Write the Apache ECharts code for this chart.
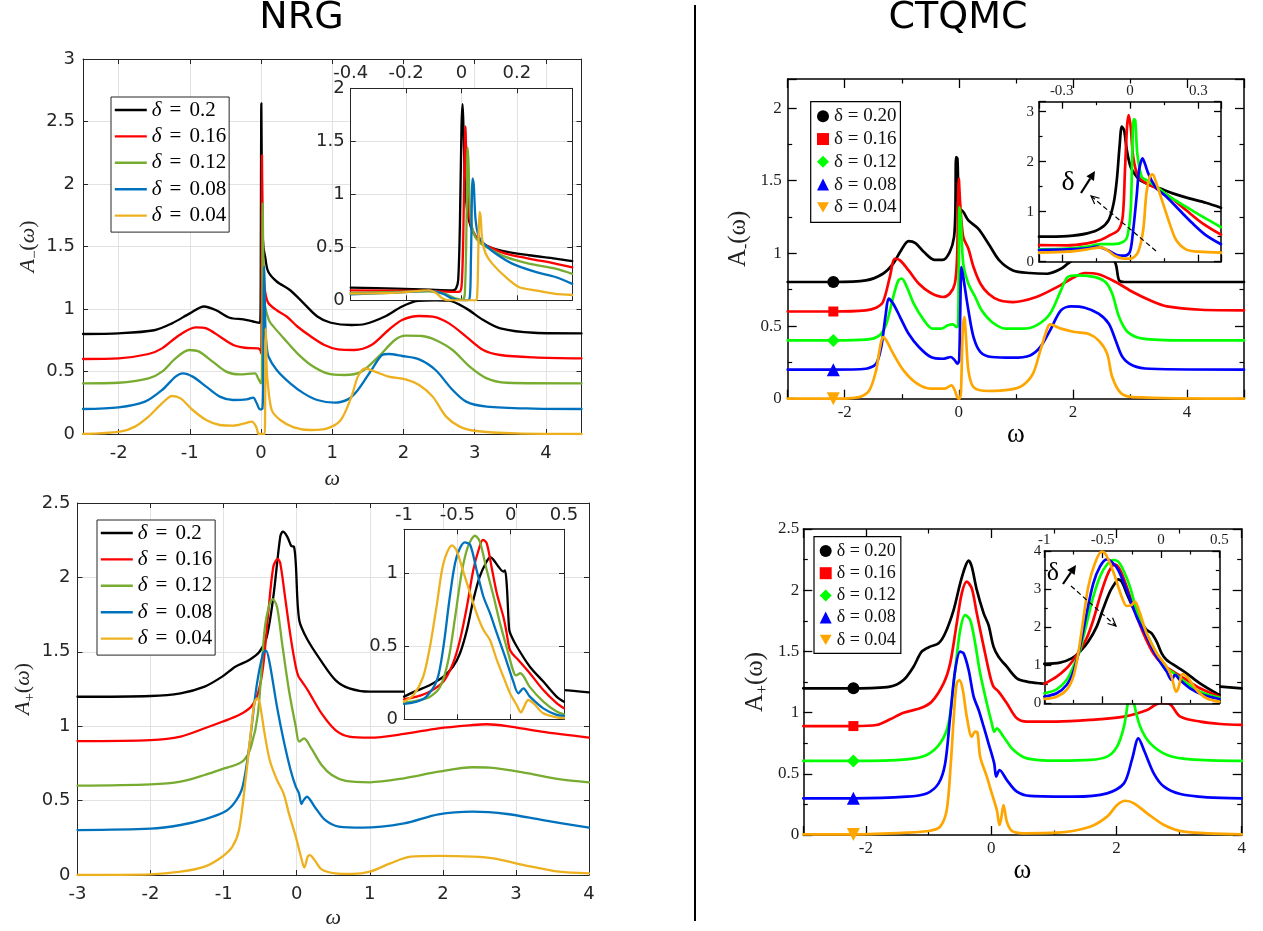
<!DOCTYPE html>
<html>
<head>
<meta charset="utf-8">
<title>Spectral functions: NRG vs CTQMC</title>
<script src="https://cdn.jsdelivr.net/npm/echarts@6/dist/echarts.min.js"></script>
<style>
  html, body { margin: 0; padding: 0; background: #ffffff; }
  #chart { width: 1263px; height: 931px; }
</style>
</head>
<body>
<div id="chart"></div>
<script>
// ---------- doping levels ----------
const deltasNRG = ['0.2', '0.16', '0.12', '0.08', '0.04'];
const deltasQMC = ['0.20', '0.16', '0.12', '0.08', '0.04'];

// ---------- axis ranges ----------
const nrgAmX = [-2.5, 4.5], nrgAmY = [0, 3];
const nrgAmZoomX = [-0.4, 0.4], nrgAmZoomY = [0, 2];
const nrgApX = [-3, 4], nrgApY = [0, 2.5];
const nrgApZoomX = [-1, 0.5], nrgApZoomY = [0, 1.3];
const qmcAmX = [-3, 5], qmcAmY = [0, 2.2];
const qmcAmZoomX = [-0.4, 0.4], qmcAmZoomY = [0, 3.2];
const qmcApX = [-3, 4], qmcApY = [0, 2.5];
const qmcApZoomX = [-1, 0.5], qmcApZoomY = [0, 4];

// ---------- NRG, A-(w), offset curves ----------
const nrgAm020 = [[-2.5,0.80],[-2.0,0.805],[-1.5,0.83],[-1.25,0.885],[-1.0,0.965],[-0.8,1.02],[-0.63,0.99],[-0.44,0.93],[-0.25,0.917],[-0.11,0.90],[-0.02,0.89],[-0.008,0.95],[-0.003,1.5],[0.004,2.645],[0.008,2.35],[0.014,1.9],[0.022,1.62],[0.035,1.49],[0.057,1.42],[0.10,1.30],[0.22,1.22],[0.41,1.15],[0.6,1.045],[0.79,0.94],[0.98,0.89],[1.27,0.872],[1.46,0.88],[1.74,0.94],[1.98,1.02],[2.2,1.065],[2.45,1.07],[2.64,1.067],[2.88,1.005],[3.12,0.912],[3.36,0.845],[3.83,0.81],[4.5,0.805]];
const nrgAm016 = [[-2.5,0.60],[-2.0,0.605],[-1.58,0.64],[-1.39,0.685],[-1.15,0.79],[-0.92,0.853],[-0.77,0.845],[-0.58,0.78],[-0.39,0.712],[-0.23,0.69],[-0.04,0.685],[-0.01,0.67],[0.002,0.645],[0.008,1.2],[0.014,2.23],[0.02,1.7],[0.03,1.35],[0.045,1.2],[0.06,1.13],[0.10,1.05],[0.22,0.99],[0.36,0.94],[0.51,0.86],[0.70,0.78],[0.89,0.712],[1.08,0.677],[1.31,0.672],[1.55,0.712],[1.79,0.832],[1.98,0.912],[2.22,0.944],[2.41,0.939],[2.64,0.885],[2.88,0.779],[3.12,0.672],[3.36,0.632],[3.83,0.613],[4.5,0.605]];
const nrgAm012 = [[-2.5,0.405],[-2.0,0.41],[-1.58,0.445],[-1.39,0.499],[-1.20,0.605],[-1.01,0.672],[-0.87,0.659],[-0.68,0.579],[-0.49,0.499],[-0.30,0.477],[-0.085,0.485],[-0.04,0.445],[0.0,0.405],[0.012,0.45],[0.018,1.1],[0.022,1.845],[0.026,1.7],[0.035,1.3],[0.05,1.05],[0.08,0.965],[0.12,0.9],[0.175,0.859],[0.32,0.765],[0.51,0.645],[0.70,0.552],[0.93,0.485],[1.17,0.472],[1.41,0.499],[1.65,0.619],[1.88,0.752],[2.03,0.787],[2.26,0.784],[2.45,0.752],[2.69,0.672],[2.93,0.539],[3.17,0.445],[3.45,0.41],[4.5,0.405]];
const nrgAm008 = [[-2.5,0.20],[-2.0,0.213],[-1.63,0.259],[-1.39,0.352],[-1.20,0.459],[-1.10,0.485],[-0.96,0.459],[-0.77,0.379],[-0.58,0.299],[-0.39,0.272],[-0.20,0.277],[-0.11,0.291],[-0.06,0.245],[-0.014,0.197],[0.02,0.205],[0.032,0.5],[0.038,1.1],[0.044,1.34],[0.048,1.25],[0.055,1.0],[0.065,0.8],[0.08,0.7],[0.104,0.62],[0.22,0.512],[0.41,0.405],[0.60,0.325],[0.79,0.272],[1.03,0.251],[1.22,0.277],[1.36,0.352],[1.55,0.512],[1.70,0.632],[1.79,0.64],[1.98,0.624],[2.22,0.597],[2.45,0.512],[2.69,0.352],[2.88,0.259],[3.17,0.219],[3.83,0.203],[4.5,0.20]];
const nrgAm004 = [[-2.5,0.0],[-1.98,0.019],[-1.77,0.059],[-1.58,0.139],[-1.39,0.245],[-1.25,0.304],[-1.13,0.285],[-0.96,0.192],[-0.77,0.112],[-0.58,0.072],[-0.39,0.067],[-0.23,0.085],[-0.13,0.099],[-0.07,0.059],[-0.04,0.005],[-0.02,0.0],[0.05,0.0],[0.056,0.1],[0.061,0.5],[0.065,0.845],[0.07,0.78],[0.078,0.55],[0.09,0.432],[0.15,0.192],[0.27,0.112],[0.46,0.053],[0.70,0.032],[0.93,0.045],[1.12,0.112],[1.27,0.299],[1.36,0.459],[1.46,0.525],[1.60,0.499],[1.79,0.459],[2.03,0.437],[2.22,0.392],[2.41,0.299],[2.60,0.139],[2.79,0.059],[3.02,0.024],[3.59,0.005],[4.5,0.0]];

// ---------- NRG, A-(w), low-energy window ----------
const nrgAmZoom020 = [[-0.4,0.12],[-0.236,0.11],[-0.116,0.10],[-0.032,0.094],[-0.02,0.11],[-0.012,0.19],[-0.006,0.69],[0.0,1.64],[0.004,1.85],[0.007,1.64],[0.013,1.07],[0.022,0.82],[0.034,0.69],[0.051,0.60],[0.087,0.52],[0.147,0.466],[0.243,0.425],[0.339,0.394],[0.4,0.37]];
const nrgAmZoom016 = [[-0.4,0.094],[-0.116,0.088],[-0.026,0.079],[-0.008,0.079],[0.0,0.126],[0.006,0.535],[0.011,1.4],[0.014,1.64],[0.019,1.165],[0.028,0.787],[0.04,0.661],[0.063,0.567],[0.099,0.504],[0.159,0.441],[0.243,0.394],[0.339,0.346],[0.4,0.31]];
const nrgAmZoom012 = [[-0.4,0.069],[-0.236,0.079],[-0.116,0.085],[-0.062,0.063],[-0.02,0.016],[0.004,0.006],[0.012,0.063],[0.018,0.693],[0.022,1.443],[0.025,1.32],[0.031,0.85],[0.042,0.646],[0.063,0.551],[0.099,0.488],[0.159,0.409],[0.243,0.346],[0.339,0.299],[0.4,0.25]];
const nrgAmZoom008 = [[-0.4,0.057],[-0.236,0.072],[-0.116,0.088],[-0.068,0.063],[-0.032,0.016],[0.004,0.0],[0.028,0.006],[0.034,0.378],[0.04,1.15],[0.044,1.10],[0.051,0.756],[0.063,0.598],[0.087,0.52],[0.123,0.441],[0.183,0.346],[0.267,0.268],[0.339,0.22],[0.4,0.155]];
const nrgAmZoom004 = [[-0.4,0.063],[-0.236,0.072],[-0.116,0.094],[-0.092,0.069],[-0.068,0.016],[-0.044,0.0],[0.051,0.0],[0.057,0.063],[0.061,0.504],[0.065,0.835],[0.069,0.787],[0.075,0.567],[0.087,0.441],[0.111,0.346],[0.159,0.22],[0.207,0.126],[0.267,0.094],[0.339,0.06],[0.4,0.05]];

// ---------- NRG, A+(w), offset curves ----------
const nrgAp020 = [[-3,1.198],[-2.0,1.203],[-1.59,1.221],[-1.26,1.266],[-1.02,1.333],[-0.84,1.40],[-0.65,1.445],[-0.51,1.50],[-0.41,1.60],[-0.32,1.87],[-0.225,2.274],[-0.19,2.307],[-0.13,2.274],[-0.074,2.211],[-0.037,2.206],[-0.013,2.095],[0.034,1.714],[0.15,1.579],[0.34,1.434],[0.53,1.31],[0.72,1.254],[1.0,1.232],[1.47,1.232],[1.94,1.243],[2.41,1.254],[2.88,1.254],[3.35,1.245],[3.65,1.243],[4.0,1.228]];
const nrgAp016 = [[-3,0.90],[-2.0,0.907],[-1.59,0.93],[-1.26,0.986],[-1.02,1.03],[-0.79,1.075],[-0.625,1.131],[-0.53,1.221],[-0.46,1.40],[-0.39,1.758],[-0.32,2.072],[-0.26,2.124],[-0.225,2.095],[-0.154,1.848],[-0.084,1.602],[-0.013,1.40],[0.025,1.333],[0.058,1.31],[0.15,1.243],[0.34,1.086],[0.53,0.974],[0.72,0.93],[1.0,0.923],[1.47,0.948],[1.94,0.986],[2.41,1.008],[2.60,1.013],[2.88,1.001],[3.35,0.963],[4.0,0.923]];
const nrgAp012 = [[-3,0.60],[-2.0,0.609],[-1.59,0.627],[-1.26,0.672],[-1.02,0.712],[-0.84,0.739],[-0.72,0.773],[-0.625,0.862],[-0.53,1.086],[-0.44,1.646],[-0.37,1.826],[-0.33,1.853],[-0.27,1.803],[-0.20,1.557],[-0.107,1.243],[-0.013,0.997],[0.034,0.896],[0.10,0.918],[0.20,0.851],[0.34,0.739],[0.48,0.672],[0.67,0.632],[1.0,0.623],[1.47,0.65],[1.94,0.694],[2.41,0.724],[2.64,0.721],[3.11,0.688],[3.59,0.645],[4.0,0.623]];
const nrgAp008 = [[-3,0.302],[-2.0,0.311],[-1.59,0.336],[-1.26,0.374],[-0.98,0.426],[-0.84,0.493],[-0.74,0.594],[-0.65,0.862],[-0.55,1.266],[-0.46,1.49],[-0.42,1.508],[-0.37,1.423],[-0.27,1.131],[-0.18,0.907],[-0.084,0.706],[-0.013,0.594],[0.03,0.55],[0.065,0.477],[0.09,0.50],[0.14,0.526],[0.245,0.459],[0.387,0.37],[0.575,0.325],[0.904,0.318],[1.47,0.347],[1.94,0.408],[2.41,0.426],[2.88,0.41],[3.35,0.37],[4.0,0.318]];
const nrgAp004 = [[-3,0.0],[-2.0,0.004],[-1.59,0.022],[-1.26,0.056],[-1.02,0.123],[-0.88,0.19],[-0.79,0.302],[-0.70,0.638],[-0.625,0.974],[-0.58,1.154],[-0.545,1.187],[-0.51,1.165],[-0.44,0.952],[-0.37,0.773],[-0.27,0.638],[-0.18,0.549],[-0.107,0.414],[-0.013,0.258],[0.058,0.123],[0.104,0.05],[0.15,0.123],[0.18,0.134],[0.245,0.10],[0.34,0.038],[0.53,0.011],[0.76,0.007],[1.0,0.022],[1.28,0.078],[1.56,0.123],[1.94,0.128],[2.41,0.123],[2.69,0.112],[3.11,0.067],[3.59,0.022],[4.0,0.011]];

// ---------- NRG, A+(w), low-energy window ----------
const nrgApZoom020 = [[-1,0.155],[-0.88,0.196],[-0.756,0.235],[-0.63,0.292],[-0.54,0.361],[-0.475,0.452],[-0.41,0.612],[-0.35,0.817],[-0.29,0.977],[-0.225,1.08],[-0.19,1.11],[-0.16,1.09],[-0.116,1.046],[-0.069,1.011],[-0.053,1.018],[-0.035,0.9],[-0.015,0.62],[0.0,0.58],[0.056,0.50],[0.18,0.36],[0.306,0.258],[0.43,0.155],[0.5,0.12]];
const nrgApZoom016 = [[-1,0.137],[-0.88,0.155],[-0.756,0.19],[-0.63,0.258],[-0.54,0.384],[-0.475,0.543],[-0.41,0.772],[-0.35,1.023],[-0.30,1.16],[-0.26,1.228],[-0.225,1.205],[-0.18,1.046],[-0.13,0.863],[-0.069,0.703],[-0.04,0.60],[-0.01,0.48],[0.025,0.441],[0.072,0.406],[0.18,0.315],[0.306,0.20],[0.431,0.11],[0.5,0.075]];
const nrgApZoom012 = [[-1,0.114],[-0.88,0.128],[-0.756,0.155],[-0.66,0.224],[-0.584,0.406],[-0.52,0.703],[-0.46,1.00],[-0.40,1.183],[-0.334,1.256],[-0.29,1.217],[-0.225,1.023],[-0.16,0.84],[-0.10,0.658],[-0.04,0.498],[0.025,0.33],[0.05,0.30],[0.09,0.315],[0.18,0.22],[0.306,0.121],[0.431,0.053],[0.5,0.034]];
const nrgApZoom008 = [[-1,0.105],[-0.88,0.121],[-0.79,0.155],[-0.69,0.269],[-0.63,0.498],[-0.57,0.84],[-0.51,1.103],[-0.43,1.21],[-0.38,1.194],[-0.32,1.023],[-0.256,0.84],[-0.194,0.726],[-0.13,0.589],[-0.053,0.429],[0.025,0.258],[0.072,0.178],[0.119,0.212],[0.18,0.155],[0.306,0.075],[0.431,0.03],[0.5,0.023]];
const nrgApZoom004 = [[-1,0.121],[-0.91,0.167],[-0.82,0.292],[-0.756,0.498],[-0.69,0.795],[-0.63,1.068],[-0.55,1.19],[-0.51,1.16],[-0.44,1.0],[-0.38,0.863],[-0.32,0.726],[-0.256,0.612],[-0.194,0.543],[-0.13,0.406],[-0.069,0.292],[-0.006,0.178],[0.056,0.098],[0.097,0.046],[0.119,0.075],[0.166,0.132],[0.213,0.11],[0.306,0.041],[0.431,0.014],[0.5,0.009]];

// ---------- CTQMC, A-(w), offset curves ----------
const qmcAm020 = [[-3,0.803],[-2.2,0.803],[-1.63,0.814],[-1.33,0.86],[-1.15,0.929],[-1.03,1.009],[-0.88,1.085],[-0.76,1.071],[-0.61,1.009],[-0.43,0.956],[-0.28,0.956],[-0.16,1.009],[-0.084,1.112],[-0.06,1.3],[-0.048,1.663],[-0.024,1.651],[-0.01,1.4],[0.0,1.273],[0.048,1.296],[0.168,1.227],[0.34,1.17],[0.52,1.067],[0.71,0.952],[0.95,0.883],[1.24,0.865],[1.55,0.86],[1.79,0.894],[1.91,0.929],[2.1,0.98],[2.4,1.0],[2.65,0.98],[2.75,0.929],[2.81,0.814],[2.9,0.803],[3.65,0.803],[5.0,0.803]];
const qmcAm016 = [[-3,0.60],[-2.2,0.60],[-1.63,0.608],[-1.45,0.626],[-1.33,0.665],[-1.21,0.837],[-1.12,0.963],[-1.03,0.952],[-0.88,0.883],[-0.70,0.791],[-0.49,0.727],[-0.28,0.70],[-0.16,0.722],[-0.07,0.791],[-0.03,0.975],[0.0,1.514],[0.024,1.342],[0.078,1.112],[0.168,1.032],[0.258,0.906],[0.38,0.791],[0.52,0.722],[0.71,0.677],[0.95,0.665],[1.36,0.70],[1.72,0.768],[2.03,0.837],[2.21,0.865],[2.45,0.856],[2.75,0.803],[3.05,0.734],[3.35,0.677],[3.65,0.635],[4.25,0.612],[5.0,0.608]];
const qmcAm012 = [[-3,0.401],[-2.2,0.401],[-1.63,0.406],[-1.39,0.436],[-1.27,0.516],[-1.15,0.70],[-1.06,0.814],[-1.0,0.826],[-0.91,0.768],[-0.79,0.654],[-0.61,0.539],[-0.46,0.482],[-0.31,0.482],[-0.19,0.505],[-0.10,0.511],[-0.04,0.493],[-0.012,0.505],[0.012,1.319],[0.036,1.227],[0.078,0.929],[0.168,0.791],[0.288,0.70],[0.40,0.608],[0.58,0.528],[0.82,0.482],[1.12,0.482],[1.36,0.505],[1.60,0.585],[1.79,0.745],[1.91,0.837],[2.09,0.849],[2.39,0.837],[2.57,0.803],[2.69,0.722],[2.81,0.562],[2.96,0.459],[3.23,0.413],[3.95,0.401],[5.0,0.401]];
const qmcAm008 = [[-3,0.20],[-2.2,0.20],[-1.63,0.206],[-1.45,0.241],[-1.36,0.356],[-1.28,0.585],[-1.23,0.688],[-1.15,0.654],[-1.03,0.562],[-0.88,0.447],[-0.70,0.356],[-0.49,0.287],[-0.28,0.275],[-0.14,0.287],[-0.07,0.264],[-0.024,0.241],[0.006,0.264],[0.048,0.906],[0.078,0.837],[0.168,0.608],[0.258,0.424],[0.38,0.321],[0.58,0.287],[0.95,0.282],[1.25,0.298],[1.43,0.356],[1.60,0.47],[1.79,0.608],[1.97,0.635],[2.21,0.626],[2.45,0.585],[2.63,0.516],[2.75,0.401],[2.87,0.287],[3.05,0.229],[3.35,0.206],[5.0,0.20]];
const qmcAm004 = [[-3,0.0],[-2.2,0.0],[-1.75,0.011],[-1.57,0.057],[-1.45,0.195],[-1.38,0.356],[-1.33,0.424],[-1.27,0.401],[-1.15,0.31],[-0.97,0.195],[-0.73,0.103],[-0.49,0.069],[-0.25,0.069],[-0.13,0.092],[-0.07,0.057],[-0.03,0.011],[0.006,0.0],[0.036,0.034],[0.066,0.447],[0.096,0.562],[0.126,0.424],[0.168,0.195],[0.258,0.08],[0.52,0.053],[0.89,0.062],[1.12,0.092],[1.30,0.172],[1.43,0.333],[1.55,0.482],[1.60,0.511],[1.79,0.482],[2.03,0.459],[2.27,0.447],[2.45,0.401],[2.60,0.31],[2.69,0.149],[2.84,0.039],[3.05,0.011],[5.0,0.0]];

// ---------- CTQMC, A-(w), low-energy window ----------
const qmcAmZoom020 = [[-0.4,0.50],[-0.275,0.513],[-0.188,0.567],[-0.13,0.667],[-0.094,0.833],[-0.072,1.167],[-0.058,1.633],[-0.046,2.30],[-0.036,2.70],[-0.026,2.633],[-0.014,2.233],[0.0,1.933],[0.014,1.80],[0.043,1.633],[0.087,1.533],[0.13,1.467],[0.188,1.367],[0.26,1.267],[0.333,1.18],[0.4,1.08]];
const qmcAmZoom016 = [[-0.4,0.333],[-0.275,0.327],[-0.188,0.367],[-0.13,0.433],[-0.087,0.533],[-0.051,0.633],[-0.032,0.90],[-0.022,1.833],[-0.013,2.70],[-0.006,2.933],[0.003,2.70],[0.014,2.10],[0.036,1.70],[0.072,1.567],[0.116,1.467],[0.174,1.30],[0.246,1.033],[0.319,0.767],[0.4,0.54]];
const qmcAmZoom012 = [[-0.4,0.247],[-0.275,0.26],[-0.188,0.30],[-0.13,0.353],[-0.072,0.353],[-0.029,0.40],[-0.012,0.50],[0.003,1.033],[0.01,2.167],[0.016,2.847],[0.023,2.833],[0.032,2.167],[0.051,1.70],[0.072,1.633],[0.116,1.50],[0.174,1.30],[0.246,1.10],[0.319,0.90],[0.4,0.69]];
const qmcAmZoom008 = [[-0.4,0.233],[-0.275,0.247],[-0.188,0.267],[-0.145,0.30],[-0.10,0.233],[-0.058,0.133],[-0.022,0.12],[0.0,0.20],[0.014,0.633],[0.029,1.30],[0.04,1.833],[0.055,2.067],[0.065,1.967],[0.08,1.767],[0.094,1.633],[0.116,1.467],[0.16,1.30],[0.217,1.033],[0.275,0.767],[0.333,0.533],[0.4,0.35]];
const qmcAmZoom004 = [[-0.4,0.18],[-0.275,0.20],[-0.188,0.247],[-0.13,0.287],[-0.10,0.233],[-0.065,0.113],[-0.029,0.06],[0.007,0.067],[0.036,0.20],[0.058,0.633],[0.072,1.367],[0.087,1.70],[0.099,1.747],[0.116,1.567],[0.145,1.167],[0.174,0.767],[0.203,0.433],[0.246,0.247],[0.304,0.20],[0.4,0.18]];

// ---------- CTQMC, A+(w), offset curves ----------
const qmcAp020 = [[-3,1.198],[-2.2,1.198],[-1.615,1.212],[-1.40,1.266],[-1.24,1.375],[-1.11,1.498],[-0.975,1.539],[-0.84,1.566],[-0.735,1.648],[-0.60,1.838],[-0.495,2.056],[-0.415,2.192],[-0.36,2.241],[-0.31,2.192],[-0.23,2.002],[-0.12,1.811],[-0.043,1.716],[0.037,1.539],[0.117,1.457],[0.25,1.375],[0.41,1.28],[0.57,1.253],[0.78,1.239],[0.94,1.234],[1.5,1.24],[2.0,1.25],[2.4,1.26],[3.0,1.24],[3.66,1.212],[4.0,1.198]];
const qmcAp016 = [[-3,0.89],[-2.2,0.89],[-1.83,0.899],[-1.615,0.945],[-1.40,0.999],[-1.135,1.035],[-0.95,1.089],[-0.76,1.239],[-0.655,1.402],[-0.55,1.729],[-0.47,1.974],[-0.39,2.07],[-0.31,2.015],[-0.23,1.811],[-0.12,1.539],[-0.016,1.294],[0.037,1.212],[0.117,1.171],[0.25,1.076],[0.41,0.953],[0.57,0.926],[1.05,0.926],[1.58,0.94],[2.12,0.967],[2.49,1.021],[2.70,1.08],[2.85,1.07],[3.02,0.967],[3.34,0.926],[3.66,0.907],[4.0,0.899]];
const qmcAp012 = [[-3,0.605],[-2.2,0.605],[-1.35,0.618],[-1.03,0.654],[-0.815,0.749],[-0.68,0.912],[-0.575,1.348],[-0.495,1.675],[-0.415,1.797],[-0.335,1.757],[-0.256,1.566],[-0.176,1.321],[-0.07,1.076],[0.01,0.912],[0.048,0.844],[0.09,0.871],[0.197,0.803],[0.357,0.694],[0.57,0.626],[1.05,0.607],[1.58,0.613],[1.85,0.64],[2.01,0.722],[2.12,0.885],[2.18,1.076],[2.23,1.25],[2.28,1.076],[2.38,0.885],[2.54,0.749],[2.81,0.654],[3.18,0.618],[4.0,0.605]];
const qmcAp008 = [[-3,0.30],[-2.2,0.30],[-1.35,0.313],[-1.03,0.34],[-0.84,0.422],[-0.735,0.585],[-0.655,0.967],[-0.575,1.348],[-0.495,1.498],[-0.44,1.484],[-0.36,1.348],[-0.28,1.13],[-0.2,1.021],[-0.12,0.885],[-0.043,0.749],[0.048,0.585],[0.08,0.477],[0.133,0.531],[0.25,0.449],[0.41,0.354],[0.62,0.319],[1.32,0.313],[1.85,0.34],[2.12,0.422],[2.25,0.62],[2.35,0.79],[2.45,0.68],[2.60,0.50],[2.76,0.395],[3.02,0.335],[3.45,0.308],[4.0,0.30]];
const qmcAp004 = [[-3,0.005],[-2.2,0.005],[-1.35,0.019],[-0.975,0.035],[-0.815,0.068],[-0.71,0.204],[-0.645,0.585],[-0.59,1.021],[-0.55,1.239],[-0.506,1.266],[-0.453,1.185],[-0.39,0.967],[-0.31,0.803],[-0.256,0.844],[-0.218,0.836],[-0.176,0.64],[-0.07,0.477],[0.01,0.34],[0.09,0.204],[0.133,0.082],[0.16,0.136],[0.197,0.245],[0.25,0.109],[0.33,0.033],[0.517,0.014],[1.05,0.019],[1.58,0.068],[1.85,0.15],[2.01,0.245],[2.14,0.28],[2.28,0.259],[2.49,0.177],[2.76,0.082],[3.08,0.027],[4.0,0.005]];

// ---------- CTQMC, A+(w), low-energy window ----------
const qmcApZoom020 = [[-1,1.033],[-0.866,1.068],[-0.766,1.18],[-0.694,1.357],[-0.623,1.62],[-0.551,2.013],[-0.494,2.495],[-0.437,2.932],[-0.394,3.151],[-0.366,3.256],[-0.337,3.195],[-0.294,2.888],[-0.237,2.495],[-0.18,2.188],[-0.123,1.926],[-0.08,1.838],[-0.037,1.62],[0.006,1.313],[0.049,1.138],[0.134,0.963],[0.22,0.788],[0.334,0.525],[0.5,0.219]];
const qmcApZoom016 = [[-1,0.508],[-0.894,0.70],[-0.809,0.919],[-0.751,1.138],[-0.694,1.40],[-0.637,1.707],[-0.58,2.188],[-0.523,2.801],[-0.466,3.326],[-0.423,3.589],[-0.394,3.65],[-0.351,3.501],[-0.294,3.063],[-0.237,2.538],[-0.151,1.838],[-0.066,1.313],[0.02,1.007],[0.106,0.832],[0.22,0.613],[0.334,0.394],[0.5,0.175]];
const qmcApZoom012 = [[-1,0.263],[-0.894,0.368],[-0.809,0.613],[-0.751,0.963],[-0.694,1.40],[-0.637,2.101],[-0.58,2.801],[-0.523,3.326],[-0.466,3.632],[-0.409,3.764],[-0.366,3.72],[-0.323,3.501],[-0.266,3.063],[-0.209,2.451],[-0.123,1.838],[-0.037,1.313],[0.049,0.875],[0.077,0.86],[0.106,0.80],[0.149,0.70],[0.22,0.525],[0.334,0.306],[0.5,0.149]];
const qmcApZoom008 = [[-1,0.175],[-0.894,0.263],[-0.809,0.481],[-0.751,0.832],[-0.694,1.488],[-0.637,2.363],[-0.58,3.151],[-0.523,3.589],[-0.466,3.781],[-0.423,3.72],[-0.366,3.501],[-0.294,2.976],[-0.209,2.276],[-0.123,1.75],[-0.037,1.225],[0.049,0.832],[0.091,0.613],[0.12,0.744],[0.163,0.613],[0.249,0.394],[0.363,0.219],[0.5,0.114]];
const qmcApZoom004 = [[-1,0.114],[-0.894,0.175],[-0.809,0.35],[-0.751,0.70],[-0.709,1.313],[-0.666,2.188],[-0.623,3.063],[-0.566,3.676],[-0.509,3.982],[-0.48,3.939],[-0.437,3.676],[-0.394,3.326],[-0.337,2.801],[-0.294,2.556],[-0.251,2.582],[-0.223,2.67],[-0.18,2.363],[-0.123,1.838],[-0.037,1.313],[0.049,0.963],[0.091,0.70],[0.129,0.306],[0.149,0.394],[0.186,0.77],[0.234,0.656],[0.306,0.35],[0.391,0.131],[0.5,0.044]];

// ---------- CTQMC curve markers (one per curve, on the flat left tail) ----------
const qmcMarkerOmega = -2.2;
const qmcAmMarkerLevels = [0.803, 0.60, 0.401, 0.20, 0.0];
const qmcApMarkerLevels = [1.198, 0.89, 0.605, 0.30, 0.005];

// ---------- styling ----------
const matColors = ['#000000', '#ff0000', '#77ac30', '#0072bd', '#edb120'];
const xmgColors = ['#000000', '#ff0000', '#00ff00', '#0000ff', '#ffa500'];
const qmcSymbols = ['circle', 'rect', 'diamond', 'triangle', 'path://M0,0L20,0L10,17Z'];
const qmcSymbolSizes = [12, 10, 13, 13, 13];
const SERIF = 'Liberation Serif';
const SANS = 'DejaVu Sans';

// panel descriptions: frame, axis layout and the curves that go in them
const panels = [
  { kind: 'mat', inset: false, rect: [83, 59, 498.5, 375],
    x: { range: nrgAmX, step: 1, nice: true, hideMin: true, hideMax: true, margin: 10 },
    y: { range: nrgAmY, step: 0.5, margin: 8 },
    curves: [nrgAm020, nrgAm016, nrgAm012, nrgAm008, nrgAm004],
    xName: 'ω', xGap: 34, yName: '{i|A}{s|−}{p|(}{i|ω}{p|)}', yGap: 40 },
  { kind: 'mat', inset: true, rect: [350.7, 88.3, 221.6, 212],
    x: { range: nrgAmZoomX, step: 0.2, hideMax: true, margin: 6 },
    y: { range: nrgAmZoomY, step: 0.5, margin: 6 },
    curves: [nrgAmZoom020, nrgAmZoom016, nrgAmZoom012, nrgAmZoom008, nrgAmZoom004] },
  { kind: 'mat', inset: false, rect: [77.5, 503, 511.5, 372],
    x: { range: nrgApX, step: 1, margin: 10 },
    y: { range: nrgApY, step: 0.5, margin: 7 },
    curves: [nrgAp020, nrgAp016, nrgAp012, nrgAp008, nrgAp004],
    xName: 'ω', xGap: 32, yName: '{i|A}{s|+}{p|(}{i|ω}{p|)}', yGap: 40 },
  { kind: 'mat', inset: true, rect: [404, 529.3, 160, 190],
    x: { range: nrgApZoomX, step: 0.5, margin: 5 },
    y: { range: nrgApZoomY, step: 0.5, hideMax: true, margin: 6 },
    curves: [nrgApZoom020, nrgApZoom016, nrgApZoom012, nrgApZoom008, nrgApZoom004] },
  { kind: 'xmg', inset: false, rect: [787.7, 79, 456.3, 319.7],
    x: { range: qmcAmX, step: 2, nice: true, hideMin: true, hideMax: true, margin: 5 },
    y: { range: qmcAmY, step: 0.5, hideMax: true, margin: 6 },
    curves: [qmcAm020, qmcAm016, qmcAm012, qmcAm008, qmcAm004], markers: qmcAmMarkerLevels,
    xName: 'ω', xGap: 11, yName: '{a|A}{s|-}{a|(ω)}', yGap: 34 },
  { kind: 'xmg', inset: true, rect: [1039, 101.7, 182, 160],
    x: { range: qmcAmZoomX, step: 0.3, nice: true, hideMin: true, hideMax: true, margin: 3 },
    y: { range: qmcAmZoomY, step: 1, hideMax: true, margin: 5 },
    curves: [qmcAmZoom020, qmcAmZoom016, qmcAmZoom012, qmcAmZoom008, qmcAmZoom004] },
  { kind: 'xmg', inset: false, rect: [803.3, 529, 438.4, 306],
    x: { range: qmcApX, step: 2, nice: true, hideMin: true, margin: 5 },
    y: { range: qmcApY, step: 0.5, margin: 4 },
    curves: [qmcAp020, qmcAp016, qmcAp012, qmcAp008, qmcAp004], markers: qmcApMarkerLevels,
    xName: 'ω', xGap: 14, yName: '{a|A}{s|+}{a|(ω)}', yGap: 33 },
  { kind: 'xmg', inset: true, rect: [1044.3, 551, 175, 152.3],
    x: { range: qmcApZoomX, step: 0.5, margin: 3 },
    y: { range: qmcApZoomY, step: 1, margin: 3 },
    curves: [qmcApZoom020, qmcApZoom016, qmcApZoom012, qmcApZoom008, qmcApZoom004] }
];

const grid = [], xAxis = [], yAxis = [], series = [];

function makeAxis(p, gi, r, pos, withLabels, withGrid) {
  const mat = p.kind === 'mat';
  const ink = mat ? '#262626' : '#000000';
  const a = {
    type: 'value', gridIndex: gi, position: pos,
    min: r.range[0], max: r.range[1],
    z: p.inset ? 11 : 1,
    axisLine: { show: true, onZero: false, lineStyle: { color: ink, width: mat ? 1 : 1.5 } },
    axisTick: { show: true, inside: true, length: mat ? 5 : (p.inset ? 7 : 9), lineStyle: { color: ink, width: mat ? 1 : 1.3 } },
    minorTick: { show: !mat, splitNumber: 2, length: p.inset ? 3.5 : 4.5, lineStyle: { color: ink, width: 1.2 } },
    splitLine: { show: mat && withGrid, lineStyle: { color: '#e2e2e2', width: 1 } },
    axisLabel: {
      show: withLabels, margin: r.margin,
      color: mat ? '#262626' : '#1e1e1e',
      fontFamily: mat ? SANS : SERIF,
      fontSize: mat ? 18 : (p.inset ? 15 : 17),
      showMinLabel: !r.hideMin, showMaxLabel: !r.hideMax
    }
  };
  if (r.nice) {
    a.minInterval = r.step; a.maxInterval = r.step;
    a.splitNumber = Math.max(1, Math.round((r.range[1] - r.range[0]) / r.step));
  } else {
    a.interval = r.step;
  }
  return a;
}

panels.forEach((p, gi) => {
  const mat = p.kind === 'mat';
  const g = { left: p.rect[0], top: p.rect[1], width: p.rect[2], height: p.rect[3], containLabel: false, outerBoundsMode: 'none' };
  if (p.inset) Object.assign(g, { show: true, backgroundColor: '#ffffff', borderWidth: 0, z: 10 });
  grid.push(g);

  const xi = xAxis.length, yi = yAxis.length;
  const xb = makeAxis(p, gi, p.x, 'bottom', !p.inset, true);
  const xt = makeAxis(p, gi, p.x, 'top', p.inset, false);
  const yl = makeAxis(p, gi, p.y, 'left', true, true);
  const yr = makeAxis(p, gi, p.y, 'right', false, false);

  if (p.xName) {
    Object.assign(xb, {
      name: p.xName, nameLocation: 'middle', nameGap: p.xGap,
      nameTextStyle: mat
        ? { fontFamily: SERIF, fontStyle: 'italic', fontSize: 22, color: '#262626' }
        : { fontFamily: SERIF, fontSize: 27, color: '#000000' }
    });
  }
  if (p.yName) {
    Object.assign(yl, {
      name: p.yName, nameLocation: 'middle', nameGap: p.yGap, nameRotate: 90,
      nameTextStyle: mat ? {
        color: '#262626',
        rich: {
          i: { fontFamily: SERIF, fontStyle: 'italic', fontSize: 22, lineHeight: 28, verticalAlign: 'middle', color: '#262626' },
          p: { fontFamily: SERIF, fontSize: 22, lineHeight: 28, verticalAlign: 'middle', color: '#262626' },
          s: { fontFamily: SERIF, fontSize: 15, lineHeight: 14, verticalAlign: 'bottom', color: '#262626' }
        }
      } : {
        color: '#000000',
        rich: {
          a: { fontFamily: SERIF, fontSize: 25, lineHeight: 30, verticalAlign: 'middle', color: '#222' },
          s: { fontFamily: SERIF, fontSize: 16, lineHeight: 15, verticalAlign: 'bottom', color: '#222' }
        }
      }
    });
  }
  xAxis.push(xb, xt);
  yAxis.push(yl, yr);

  const colors = mat ? matColors : xmgColors;
  const width = mat ? 2.3 : 2.7;
  p.curves.forEach((data, k) => {
    series.push({
      type: 'line',
      name: mat ? 'nrg-' + deltasNRG[k] : undefined,
      data: data, xAxisIndex: xi, yAxisIndex: yi,
      showSymbol: false, symbol: 'none',
      smooth: 0.3,
      color: colors[k], itemStyle: { color: colors[k] },
      lineStyle: { color: colors[k], width: width, join: 'round', cap: 'round' },
      z: p.inset ? 12 : 2, silent: true, animation: false
    });
  });
  if (p.markers) {
    p.markers.forEach((lvl, k) => {
      series.push({
        type: 'scatter', name: 'qmc-' + deltasQMC[k],
        data: [[qmcMarkerOmega, lvl]], xAxisIndex: xi, yAxisIndex: yi,
        symbol: qmcSymbols[k], symbolSize: qmcSymbolSizes[k],
        itemStyle: { color: xmgColors[k], opacity: 1 },
        clip: false, z: 3, silent: true, animation: false
      });
    });
  }
});

// legends
function nrgLegend(left, top) {
  return {
    orient: 'vertical', left: left, top: top, selectedMode: false,
    data: deltasNRG.map(d => ({ name: 'nrg-' + d, icon: 'rect' })),
    itemWidth: 32, itemHeight: 2.4, itemGap: 5.4,
    padding: [2.5, 3, 6, 3.8],
    backgroundColor: '#ffffff', borderColor: '#262626', borderWidth: 1, borderRadius: 0,
    formatter: name => '{d|δ}{e|=}{t|' + name.slice(4) + '}',
    textStyle: {
      lineHeight: 21,
      rich: {
        d: { fontFamily: SERIF, fontStyle: 'italic', fontSize: 21, lineHeight: 21, color: '#000' },
        e: { fontFamily: SERIF, fontSize: 21, lineHeight: 21, padding: [0, 8, 0, 8], color: '#000' },
        t: { fontFamily: SERIF, fontSize: 21, lineHeight: 21, color: '#000' }
      }
    }
  };
}
function qmcLegend(left, top, fs, gap, pad) {
  return {
    orient: 'vertical', left: left, top: top, selectedMode: false,
    data: deltasQMC.map((d, k) => ({ name: 'qmc-' + d, icon: qmcSymbols[k] })),
    itemWidth: 12, itemHeight: 12, itemGap: gap,
    padding: pad,
    backgroundColor: '#ffffff', borderColor: '#000000', borderWidth: 1.2, borderRadius: 0,
    formatter: name => '{t|δ = ' + name.slice(4) + '}',
    textStyle: {
      lineHeight: fs - 4,
      rich: { t: { fontFamily: SERIF, fontSize: fs, lineHeight: fs - 4, color: '#111' } }
    }
  };
}
const legend = [
  nrgLegend(111, 97),
  nrgLegend(97, 520),
  qmcLegend(810.7, 101.7, 19, 3.75, [5.1, 4, 5.5, 6.3]),
  qmcLegend(814, 536.7, 18, 4.2, [5.3, 5, 4.6, 5.7])
];

// annotation arrows for the two CTQMC insets
function arrow(x1, y1, x2, y2, dashed) {
  const ang = Math.atan2(y2 - y1, x2 - x1);
  const L = dashed ? 8 : 9, W = dashed ? 3.8 : 4.5;
  const bx = x2 - L * Math.cos(ang), by = y2 - L * Math.sin(ang);
  const px = -Math.sin(ang) * W, py = Math.cos(ang) * W;
  const head = [[bx + px, by + py], [x2, y2], [bx - px, by - py]];
  if (dashed) {
    return [
      { type: 'line', shape: { x1: x1, y1: y1, x2: x2, y2: y2 }, style: { stroke: '#000', lineWidth: 1.2, lineDash: [5, 3] }, z: 100, silent: true },
      { type: 'polyline', shape: { points: head }, style: { stroke: '#000', lineWidth: 1.2, fill: null }, z: 100, silent: true }
    ];
  }
  return [
    { type: 'line', shape: { x1: x1, y1: y1, x2: bx, y2: by }, style: { stroke: '#000', lineWidth: 2.2 }, z: 100, silent: true },
    { type: 'polygon', shape: { points: head }, style: { fill: '#000' }, z: 100, silent: true }
  ];
}
function label(x, y, text, font) {
  return { type: 'text', x: x, y: y, z: 100, silent: true,
    style: { text: text, font: font, fill: '#000', textAlign: 'center', textVerticalAlign: 'middle', align: 'center', verticalAlign: 'middle' } };
}

const graphic = [
  label(301.5, 18, 'NRG', '38px "DejaVu Sans"'),
  label(958, 18, 'CTQMC', '38px "DejaVu Sans"'),
  { type: 'line', shape: { x1: 695, y1: 5, x2: 695, y2: 921 }, style: { stroke: '#000', lineWidth: 2 }, z: 100, silent: true },
  label(1068, 183, 'δ', '28px "Liberation Serif"'),
  ...arrow(1081, 193, 1095, 171, false),
  ...arrow(1156, 251, 1091, 196, true),
  label(1053, 573, 'δ', '26px "Liberation Serif"'),
  ...arrow(1063, 584, 1076, 565, false),
  ...arrow(1071, 586, 1116, 626, true)
];

const chart = echarts.init(document.getElementById('chart'), null, { renderer: 'canvas', width: 1263, height: 931 });
chart.setOption({
  animation: false,
  backgroundColor: '#ffffff',
  grid: grid, xAxis: xAxis, yAxis: yAxis,
  legend: legend, series: series, graphic: graphic
});
</script>
</body>
</html>
